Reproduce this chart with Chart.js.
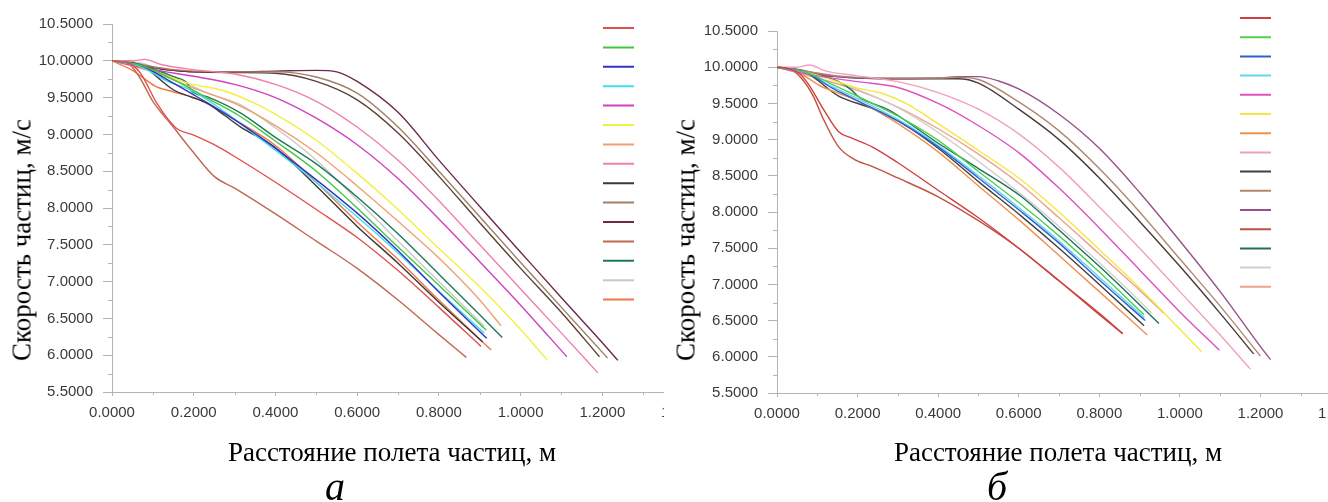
<!DOCTYPE html>
<html>
<head>
<meta charset="utf-8">
<script src="https://cdn.jsdelivr.net/npm/chart.js@4.4.1/dist/chart.umd.min.js"></script>
<style>
  body { margin: 0; width: 1328px; height: 502px; overflow: hidden; background: #fff; position: relative; font-family: "Liberation Serif", "Times New Roman", serif; }
  .panel { position: absolute; top: 0; width: 664px; height: 502px; overflow: hidden; }
  .panel canvas { position: absolute; left: 0; top: 0; }
  .ytitle { position: absolute; font-size: 27px; line-height: 1; white-space: nowrap; color: #000; transform: translate(-50%, -50%) rotate(-90deg); }
  .xtitle { position: absolute; font-size: 27px; line-height: 1; white-space: nowrap; color: #000; transform: translateX(-50%); }
  .tag { position: absolute; font-size: 40px; font-style: italic; line-height: 1; color: #000; transform: translateX(-50%); }
</style>
</head>
<body>
<div class="panel" style="left:0">
  <canvas id="chartA" width="715" height="502"></canvas>
  <div class="ytitle" style="left:22px; top:240px">Скорость частиц, м/с</div>
  <div class="xtitle" style="left:392px; top:439px">Расстояние полета частиц, м</div>
  <div class="tag" style="left:335px; top:467px">а</div>
</div>
<div class="panel" style="left:664px">
  <canvas id="chartB" width="708" height="502"></canvas>
  <div class="ytitle" style="left:22px; top:240px">Скорость частиц, м/с</div>
  <div class="xtitle" style="left:394px; top:439px">Расстояние полета частиц, м</div>
  <div class="tag" style="left:333px; top:467px">б</div>
</div>

<script>
// axis ticks
const yTicks = [5.5, 6.0, 6.5, 7.0, 7.5, 8.0, 8.5, 9.0, 9.5, 10.0, 10.5];
const xTicks = [0, 0.2, 0.4, 0.6, 0.8, 1.0, 1.2, 1.4];

// panel а : [distance, speed]
const aRed     = [[0,10],[0.04,9.97],[0.07,9.83],[0.11,9.42],[0.156,9.09],[0.2,8.99],[0.25,8.86],[0.3,8.7],[0.4,8.35],[0.5,7.98],[0.6,7.6],[0.7,7.15],[0.8,6.65],[0.903,6.12]];
const aGreen   = [[0,10],[0.07,9.94],[0.152,9.74],[0.234,9.49],[0.315,9.24],[0.397,8.92],[0.5,8.5],[0.6,8.0],[0.7,7.47],[0.8,6.95],[0.916,6.34]];
const aBlue    = [[0,10],[0.07,9.94],[0.136,9.74],[0.193,9.56],[0.275,9.29],[0.356,8.99],[0.45,8.6],[0.6,7.93],[0.7,7.42],[0.8,6.86],[0.917,6.23]];
const aCyan    = [[0,10],[0.07,9.92],[0.136,9.72],[0.193,9.6],[0.275,9.31],[0.356,8.97],[0.45,8.57],[0.6,7.88],[0.7,7.39],[0.8,6.87],[0.911,6.3]];
const aMagenta = [[0,10],[0.1,9.88],[0.2,9.79],[0.3,9.68],[0.4,9.5],[0.5,9.22],[0.6,8.86],[0.7,8.4],[0.8,7.85],[0.9,7.27],[1.0,6.68],[1.113,5.98]];
const aYellow  = [[0,10],[0.04,9.97],[0.11,9.85],[0.19,9.69],[0.27,9.6],[0.35,9.42],[0.437,9.15],[0.5,8.92],[0.6,8.47],[0.7,7.98],[0.8,7.45],[0.9,6.93],[1.0,6.35],[1.066,5.93]];
const aSalmon  = [[0,10],[0.1,9.85],[0.19,9.65],[0.3,9.42],[0.4,9.12],[0.5,8.75],[0.6,8.3],[0.7,7.82],[0.8,7.32],[0.9,6.75],[0.952,6.4]];
const aPink    = [[0,10],[0.05,10.0],[0.08,10.02],[0.12,9.95],[0.2,9.88],[0.3,9.82],[0.4,9.68],[0.5,9.45],[0.6,9.1],[0.7,8.65],[0.8,8.1],[0.9,7.5],[1.0,6.9],[1.1,6.3],[1.189,5.76]];
const aBlack   = [[0,10],[0.07,9.94],[0.152,9.6],[0.193,9.51],[0.234,9.42],[0.275,9.26],[0.315,9.1],[0.397,8.83],[0.5,8.3],[0.6,7.75],[0.7,7.25],[0.8,6.72],[0.907,6.18]];
const aTan     = [[0,10],[0.05,9.97],[0.1,9.92],[0.15,9.88],[0.2,9.86],[0.3,9.85],[0.4,9.85],[0.5,9.78],[0.6,9.56],[0.7,9.1],[0.8,8.5],[0.9,7.88],[1.0,7.26],[1.1,6.65],[1.213,5.96]];
const aMaroon  = [[0,10],[0.05,9.97],[0.1,9.91],[0.15,9.87],[0.2,9.85],[0.3,9.85],[0.4,9.86],[0.5,9.87],[0.55,9.85],[0.6,9.72],[0.7,9.3],[0.8,8.65],[0.9,8.02],[1.0,7.4],[1.1,6.78],[1.2,6.17],[1.238,5.93]];
const aBrick   = [[0,10],[0.04,9.96],[0.067,9.78],[0.1,9.45],[0.15,9.1],[0.2,8.75],[0.25,8.43],[0.3,8.27],[0.4,7.92],[0.5,7.55],[0.6,7.18],[0.7,6.75],[0.8,6.28],[0.867,5.97]];
const aTeal    = [[0,10],[0.07,9.94],[0.152,9.78],[0.185,9.69],[0.193,9.6],[0.234,9.51],[0.315,9.29],[0.397,8.97],[0.5,8.6],[0.6,8.15],[0.7,7.65],[0.8,7.1],[0.9,6.55],[0.955,6.24]];
const aGray    = [[0,10],[0.07,9.97],[0.152,9.78],[0.234,9.56],[0.315,9.4],[0.397,9.1],[0.5,8.65],[0.6,8.11],[0.7,7.55],[0.8,7.0],[0.911,6.39]];
const aOrange  = [[0,10],[0.05,9.87],[0.108,9.65],[0.149,9.58],[0.214,9.47],[0.3,9.2],[0.4,8.85],[0.5,8.35],[0.6,7.81],[0.7,7.3],[0.8,6.75],[0.928,6.07]];
const aBrown   = [[0,10],[0.05,9.96],[0.1,9.9],[0.15,9.87],[0.2,9.85],[0.3,9.84],[0.4,9.83],[0.5,9.72],[0.6,9.47],[0.7,9.02],[0.8,8.43],[0.9,7.8],[1.0,7.18],[1.1,6.58],[1.193,5.98]];

// panel б
const bRed     = [[0,10],[0.03,9.98],[0.054,9.92],[0.08,9.75],[0.112,9.45],[0.153,9.11],[0.186,9.02],[0.236,8.9],[0.3,8.68],[0.4,8.3],[0.5,7.92],[0.6,7.5],[0.7,7.05],[0.8,6.6],[0.858,6.32]];
const bGreen   = [[0,10],[0.071,9.93],[0.153,9.72],[0.236,9.5],[0.318,9.27],[0.4,8.99],[0.5,8.56],[0.607,8.1],[0.7,7.67],[0.8,7.17],[0.911,6.58]];
const bBlue    = [[0,10],[0.071,9.93],[0.137,9.71],[0.195,9.55],[0.318,9.2],[0.4,8.9],[0.5,8.47],[0.607,8.0],[0.7,7.57],[0.8,7.06],[0.914,6.5]];
const bCyan    = [[0,10],[0.071,9.93],[0.137,9.73],[0.195,9.58],[0.318,9.22],[0.4,8.92],[0.5,8.5],[0.607,8.03],[0.7,7.6],[0.8,7.1],[0.912,6.54]];
const bMagenta = [[0,10],[0.1,9.88],[0.2,9.8],[0.3,9.72],[0.4,9.5],[0.483,9.25],[0.6,8.82],[0.7,8.33],[0.8,7.78],[0.9,7.2],[1.0,6.62],[1.098,6.09]];
const bYellow  = [[0,10],[0.05,9.96],[0.1,9.89],[0.2,9.71],[0.26,9.64],[0.32,9.5],[0.4,9.22],[0.5,8.85],[0.6,8.47],[0.7,8.0],[0.8,7.48],[0.9,6.95],[1.0,6.38],[1.054,6.07]];
const bOrange  = [[0,10],[0.054,9.92],[0.112,9.73],[0.153,9.64],[0.195,9.55],[0.236,9.43],[0.3,9.22],[0.4,8.83],[0.5,8.36],[0.607,7.86],[0.7,7.4],[0.8,6.9],[0.919,6.3]];
const bPink    = [[0,10],[0.05,10.0],[0.08,10.03],[0.12,9.95],[0.2,9.88],[0.3,9.8],[0.4,9.65],[0.5,9.42],[0.6,9.08],[0.7,8.62],[0.8,8.07],[0.9,7.5],[1.0,6.9],[1.1,6.3],[1.175,5.83]];
const bBlack   = [[0,10],[0.071,9.93],[0.153,9.6],[0.236,9.43],[0.318,9.2],[0.4,8.88],[0.5,8.42],[0.607,7.94],[0.7,7.5],[0.8,7.0],[0.911,6.43]];
const bTan     = [[0,10],[0.05,9.97],[0.1,9.92],[0.15,9.88],[0.2,9.86],[0.3,9.85],[0.4,9.85],[0.45,9.86],[0.5,9.83],[0.6,9.52],[0.7,9.12],[0.8,8.6],[0.9,8.0],[1.0,7.35],[1.1,6.7],[1.2,6.01]];
const bMauve   = [[0,10],[0.05,9.97],[0.1,9.91],[0.15,9.87],[0.2,9.85],[0.3,9.84],[0.4,9.85],[0.45,9.87],[0.5,9.87],[0.55,9.81],[0.6,9.7],[0.7,9.35],[0.8,8.88],[0.9,8.27],[1.0,7.6],[1.1,6.9],[1.2,6.14],[1.225,5.96]];
const bBrick   = [[0,10],[0.03,9.98],[0.06,9.85],[0.09,9.6],[0.112,9.32],[0.153,8.9],[0.194,8.72],[0.236,8.63],[0.3,8.47],[0.4,8.21],[0.5,7.88],[0.6,7.5],[0.7,7.05],[0.8,6.58],[0.858,6.32]];
const bTeal    = [[0,10],[0.071,9.94],[0.153,9.8],[0.186,9.68],[0.203,9.59],[0.277,9.41],[0.4,8.95],[0.5,8.6],[0.607,8.21],[0.7,7.75],[0.8,7.25],[0.9,6.72],[0.948,6.46]];
const bGray    = [[0,10],[0.07,9.95],[0.15,9.8],[0.24,9.6],[0.32,9.38],[0.4,9.1],[0.5,8.7],[0.607,8.24],[0.7,7.8],[0.8,7.3],[0.9,6.77],[0.93,6.6]];
const bSalmon  = [[0,10],[0.1,9.85],[0.2,9.68],[0.3,9.45],[0.4,9.15],[0.5,8.8],[0.6,8.4],[0.7,7.92],[0.8,7.42],[0.9,6.92],[0.96,6.6]];
const bDark    = [[0,10],[0.05,9.96],[0.1,9.9],[0.15,9.87],[0.2,9.85],[0.3,9.84],[0.4,9.84],[0.45,9.84],[0.5,9.78],[0.6,9.42],[0.7,9.0],[0.8,8.47],[0.9,7.87],[1.0,7.25],[1.1,6.6],[1.183,6.04]];

const seriesA = [aRed, aGreen, aBlue, aCyan, aMagenta, aYellow, aSalmon, aPink, aBlack, aTan, aMaroon, aBrick, aTeal, aGray, aOrange, aBrown];
const seriesB = [bRed, bGreen, bBlue, bCyan, bMagenta, bYellow, bOrange, bPink, bBlack, bTan, bMauve, bBrick, bTeal, bGray, bSalmon, bDark];

const colorsA = ['#e05050', '#40c840', '#3434c4', '#40e0e8', '#d040c0', '#f2f040', '#f0a070', '#f080a8',
                 '#383838', '#a08068', '#702848', '#c06850', '#207858', '#c8c8c8', '#f07848', '#5a4038'];
const colorsB = ['#d04040', '#50d050', '#3060d0', '#60d8f0', '#e050c0', '#f2e840', '#f09050', '#f0a0c0',
                 '#404040', '#b08870', '#985088', '#c05040', '#207060', '#d0d0d0', '#f0a090', '#4a3a3a'];

const AXIS = '#b4b4b4';
const TICK_TXT = '#3a3a3a';

Chart.defaults.font.family = '"Liberation Sans", Arial, sans-serif';

// small ticks between the labelled ones
const minorTicks = {
    id: 'minorTicks',
    afterDraw( chart )
    {
        const { ctx, chartArea } = chart;
        const x = chart.scales.x;
        const y = chart.scales.y;
        ctx.save();
        ctx.strokeStyle = AXIS;
        ctx.lineWidth = 1;
        ctx.beginPath();
        for ( let i = 0; i < yTicks.length - 1; i++ )
        {
            const py = Math.round( y.getPixelForValue( ( yTicks[ i ] + yTicks[ i + 1 ] ) / 2 ) ) + 0.5;
            ctx.moveTo( chartArea.left - 4, py );
            ctx.lineTo( chartArea.left, py );
        }
        for ( let i = 0; i < xTicks.length - 1; i++ )
        {
            const px = Math.round( x.getPixelForValue( ( xTicks[ i ] + xTicks[ i + 1 ] ) / 2 ) ) + 0.5;
            ctx.moveTo( px, chartArea.bottom );
            ctx.lineTo( px, chartArea.bottom + 3 );
        }
        ctx.stroke();
        ctx.restore();
    }
};

// moves the legend column into the upper right part of the plot
const legendPlace = {
    id: 'legendPlace',
    afterLayout( chart, args, opts )
    {
        const lg = chart.legend;
        if ( !lg ) return;
        lg.left = opts.left - opts.pad;
        lg.top = opts.firstY - opts.pad - opts.fs / 2;
        lg.right = lg.left + 80;
        lg.bottom = lg.top + 400;
    }
};

function makeChart( id, series, colors, place )
{
    const datasets = series.map( ( s, i ) => ( {
        label: '',
        data: s.map( p => ( { x: p[ 0 ], y: p[ 1 ] } ) ),
        borderColor: colors[ i ],
        backgroundColor: colors[ i ],
        borderWidth: 1.4,
        pointRadius: 0,
        cubicInterpolationMode: 'monotone',
        fill: false
    } ) );

    return new Chart( document.getElementById( id ), {
        type: 'line',
        data: { datasets: datasets },
        options: {
            responsive: false,
            animation: false,
            events: [],
            layout: { padding: { top: place.top, right: 30, left: 0, bottom: 0 } },
            scales: {
                x: {
                    type: 'linear',
                    min: xTicks[ 0 ],
                    max: xTicks[ xTicks.length - 1 ],
                    afterBuildTicks: sc => { sc.ticks = xTicks.map( v => ( { value: v } ) ); },
                    afterFit: sc => { sc.height = place.xh; },
                    grid: { drawOnChartArea: false, tickLength: 4, color: AXIS },
                    border: { color: AXIS },
                    ticks: {
                        autoSkip: false, maxRotation: 0, padding: 8,
                        color: TICK_TXT, font: { size: 15 },
                        callback: v => Number( v ).toFixed( 4 )
                    }
                },
                y: {
                    min: yTicks[ 0 ],
                    max: yTicks[ yTicks.length - 1 ],
                    afterBuildTicks: sc => { sc.ticks = yTicks.map( v => ( { value: v } ) ); },
                    afterFit: sc => { sc.width = place.yw; },
                    grid: { drawOnChartArea: false, tickLength: 9, color: AXIS },
                    border: { color: AXIS },
                    ticks: {
                        padding: 10, color: TICK_TXT, font: { size: 15 },
                        callback: v => Number( v ).toFixed( 4 )
                    }
                }
            },
            plugins: {
                tooltip: { enabled: false },
                legendPlace: { left: place.legendLeft, firstY: place.legendY, pad: place.legendPad, fs: 10 },
                legend: {
                    position: 'chartArea',
                    align: 'start',
                    labels: {
                        usePointStyle: true,
                        pointStyle: 'line',
                        pointStyleWidth: 31,
                        padding: place.legendPad,
                        font: { size: 10 },
                        generateLabels: chart =>
                        {
                            const items = Chart.defaults.plugins.legend.labels.generateLabels( chart );
                            items.forEach( it => { it.lineWidth = 2; it.text = ''; } );
                            return items.filter( it => it.datasetIndex < 15 );
                        }
                    }
                }
            }
        },
        plugins: [ minorTicks, legendPlace ]
    } );
}

makeChart( 'chartA', seriesA, colorsA, { top: 24, xh: 110, yw: 112, legendLeft: 603, legendY: 28, legendPad: 9.4 } );
makeChart( 'chartB', seriesB, colorsB, { top: 31, xh: 109, yw: 113, legendLeft: 576, legendY: 18, legendPad: 9.2 } );
</script>
</body>
</html>
